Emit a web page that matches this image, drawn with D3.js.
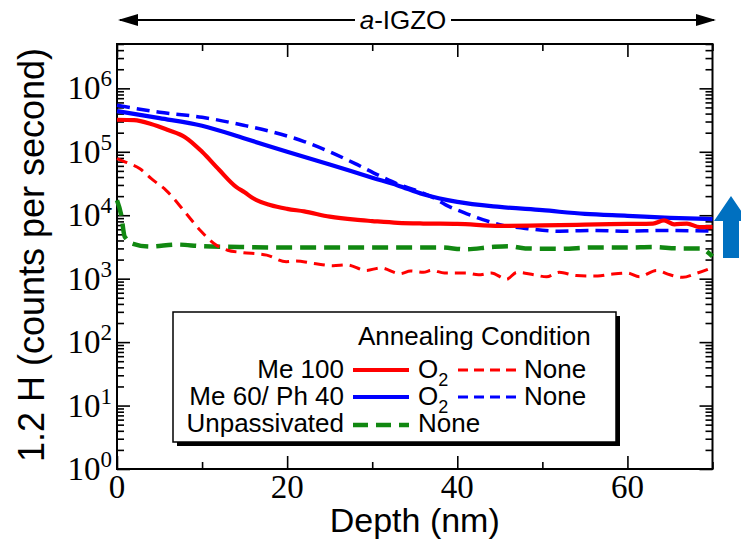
<!DOCTYPE html>
<html><head><meta charset="utf-8">
<script src="https://cdn.jsdelivr.net/npm/d3@7"></script>
<style>
html,body{margin:0;padding:0;background:#fff;}
svg{display:block;}
</style></head>
<body>
<svg id="chart" width="741" height="540"></svg>
<script>
// ---- data (depth in nm, counts per second) ----
const me100O2Depth  = [0, 2, 4, 6, 8, 10, 12, 14, 15, 16, 18, 20, 22, 25, 28, 30, 33, 36, 40, 45, 50, 55, 60, 63, 64.3, 65.5, 67, 68.5, 70];
const me100O2Counts = [3.2e5, 3.15e5, 2.75e5, 2.2e5, 1.7e5, 1.0e5, 5.2e4, 2.8e4, 2.3e4, 1.85e4, 1.45e4, 1.26e4, 1.15e4, 9.5e3, 8.5e3, 8.1e3, 7.6e3, 7.4e3, 7.3e3, 6.8e3, 6.9e3, 7.1e3, 7.3e3, 7.4e3, 8.3e3, 7.2e3, 7.4e3, 6.5e3, 6.5e3];

const me100NoneDepth  = [0, 1, 2.7, 4, 5.8, 8, 9.8, 11.7, 13, 14.5, 17.6, 19.9, 21, 23, 25.4, 27, 29.3, 31, 33.3, 34.5, 36, 37, 38.5, 41, 42.5, 44, 45.8, 47, 49, 50.5, 52, 54, 56.5, 58, 60, 61.4, 63.4, 65, 66.5, 68, 70];
const me100NoneCounts = [7.8e4, 6.9e4, 5.4e4, 3.8e4, 2.45e4, 1.12e4, 5.75e3, 3.35e3, 2.8e3, 2.6e3, 2.35e3, 1.85e3, 1.9e3, 1.75e3, 1.6e3, 1.65e3, 1.35e3, 1.48e3, 1.2e3, 1.32e3, 1.26e3, 1.35e3, 1.23e3, 1.23e3, 1.15e3, 1.23e3, 0.98e3, 1.26e3, 1.15e3, 1.07e3, 1.26e3, 1.12e3, 1.1e3, 1.17e3, 1.23e3, 1.07e3, 1.35e3, 1.15e3, 1.05e3, 1.2e3, 1.5e3];

const ph40O2Depth  = [0, 5, 10, 15, 20, 25, 30, 33, 36, 40, 45, 50, 55, 60, 65, 70];
const ph40O2Counts = [4.37e5, 3.39e5, 2.57e5, 1.62e5, 1.0e5, 6.3e4, 3.9e4, 2.95e4, 2.14e4, 1.62e4, 1.35e4, 1.2e4, 1.05e4, 9.8e3, 9.1e3, 8.7e3];

const ph40NoneDepth  = [0, 5, 10, 15, 18, 22, 25, 28, 31, 33, 35, 37, 39, 41, 43, 45, 48, 52, 56, 60, 64, 70];
const ph40NoneCounts = [5.4e5, 4.2e5, 3.5e5, 2.6e5, 2.1e5, 1.45e5, 1.0e5, 6.5e4, 4.1e4, 3.1e4, 2.5e4, 1.95e4, 1.38e4, 1.07e4, 8.5e3, 7.1e3, 6.2e3, 5.6e3, 5.75e3, 5.6e3, 5.75e3, 5.6e3];

const unpassDepth  = [0, 0.5, 0.9, 1.9, 3.9, 7, 10, 15, 20, 25, 30, 33, 38, 41, 44, 46, 48, 52, 56, 60, 63, 66, 68.5, 70];
const unpassCounts = [1.72e4, 1.0e4, 4.6e3, 3.55e3, 3.2e3, 3.45e3, 3.25e3, 3.15e3, 3.1e3, 3.1e3, 3.1e3, 3.1e3, 3.1e3, 2.9e3, 3.15e3, 3.25e3, 3.0e3, 2.95e3, 3.1e3, 3.1e3, 3.15e3, 3.0e3, 3.0e3, 2.25e3];

const xTicksMajor = [0, 20, 40, 60];
const xTicksMinor = [10, 30, 50, 70];
const yDecades = [1, 10, 100, 1000, 10000, 100000, 1000000];
const yExponents = ["0", "1", "2", "3", "4", "5", "6"];

const legendRows = ["Me 100", "Me 60/ Ph 40", "Unpassivated"];

// ---- layout ----
const svg = d3.select("#chart");
const L = 117, R = 712.5, T = 44, B = 469;
const x = d3.scaleLinear().domain([0, 70]).range([L, R]);
const y = d3.scaleLog().domain([1, 5e6]).range([B, T]);

const serif = "'Liberation Serif','Times New Roman',serif";
const sans = "'Liberation Sans',Arial,sans-serif";

// minor y ticks
const yMinor = [];
for (let k = 0; k <= 6; k++) for (let m = 2; m <= 9; m++) { const v = m * Math.pow(10, k); if (v <= 5e6) yMinor.push(v); }

function styleAxis(g) {
  g.select(".domain").remove();
  g.selectAll("line").attr("stroke", "#000").attr("stroke-width", 1.6);
  g.selectAll("text").remove();
}
// bottom
svg.append("g").attr("transform", `translate(0,${B})`).call(d3.axisBottom(x).tickValues(xTicksMajor).tickSize(-13)).call(styleAxis);
svg.append("g").attr("transform", `translate(0,${B})`).call(d3.axisBottom(x).tickValues(xTicksMinor).tickSize(-7)).call(styleAxis);
// top
svg.append("g").attr("transform", `translate(0,${T})`).call(d3.axisTop(x).tickValues(xTicksMajor).tickSize(-13)).call(styleAxis);
svg.append("g").attr("transform", `translate(0,${T})`).call(d3.axisTop(x).tickValues(xTicksMinor).tickSize(-7)).call(styleAxis);
// left
svg.append("g").attr("transform", `translate(${L},0)`).call(d3.axisLeft(y).tickValues(yDecades).tickSize(-13)).call(styleAxis);
svg.append("g").attr("transform", `translate(${L},0)`).call(d3.axisLeft(y).tickValues(yMinor).tickSize(-7)).call(styleAxis);
// right
svg.append("g").attr("transform", `translate(${R},0)`).call(d3.axisRight(y).tickValues(yDecades).tickSize(-13)).call(styleAxis);
svg.append("g").attr("transform", `translate(${R},0)`).call(d3.axisRight(y).tickValues(yMinor).tickSize(-7)).call(styleAxis);

// frame
svg.append("rect").attr("x", L).attr("y", T).attr("width", R - L).attr("height", B - T)
  .attr("fill", "none").attr("stroke", "#000").attr("stroke-width", 2);

// x tick labels
svg.append("g").selectAll("text").data(xTicksMajor).join("text")
  .attr("x", d => x(d)).attr("y", B + 29).attr("text-anchor", "middle")
  .attr("font-family", serif).attr("font-size", 33).text(d => d);

// y tick labels
const yl = svg.append("g").selectAll("text").data(yDecades).join("text")
  .attr("x", L - 5).attr("y", d => y(d) + 11).attr("text-anchor", "end")
  .attr("font-family", serif).attr("font-size", 33);
yl.append("tspan").text("10");
yl.append("tspan").attr("dy", -13).attr("font-size", 23).text((d, i) => yExponents[i]);

// axis titles
svg.append("text").attr("x", (L + R) / 2).attr("y", 532).attr("text-anchor", "middle")
  .attr("font-family", sans).attr("font-size", 34).text("Depth (nm)");
svg.append("text").attr("transform", `translate(44,255) rotate(-90)`).attr("text-anchor", "middle")
  .attr("font-family", sans).attr("font-size", 36).text("1.2 H (counts per second)");

// top arrow annotation
const ay = 20;
function head(tipX, dir) {
  svg.append("path").attr("d", `M${tipX},${ay} L${tipX - dir * 20},${ay - 6} L${tipX - dir * 20},${ay + 6} Z`).attr("fill", "#000");
}
svg.append("line").attr("x1", 120).attr("x2", 355).attr("y1", ay).attr("y2", ay).attr("stroke", "#000").attr("stroke-width", 2);
svg.append("line").attr("x1", 451).attr("x2", 714).attr("y1", ay).attr("y2", ay).attr("stroke", "#000").attr("stroke-width", 2);
head(118, -1);
head(716, 1);
const tl = svg.append("text").attr("x", 403).attr("y", ay + 9).attr("text-anchor", "middle")
  .attr("font-family", sans).attr("font-size", 26);
tl.append("tspan").attr("font-style", "italic").text("a");
tl.append("tspan").text("-IGZO");

// curves
const line = d3.line().x(d => x(d[0])).y(d => y(d[1])).curve(d3.curveMonotoneX);
function series(depths, counts, color, width, dash) {
  svg.append("path").datum(depths.map((d, i) => [d, counts[i]]))
    .attr("d", line).attr("fill", "none").attr("stroke", color).attr("stroke-width", width)
    .attr("stroke-dasharray", dash).attr("stroke-linejoin", "round");
}
const RED = "#ff0000", BLUE = "#0000ff", GREEN = "#118811";
series(unpassDepth, unpassCounts, GREEN, 4.5, "16,8");
series(me100NoneDepth, me100NoneCounts, RED, 3, "11,7");
series(ph40NoneDepth, ph40NoneCounts, BLUE, 3.5, "13,7");
series(ph40O2Depth, ph40O2Counts, BLUE, 4.2, null);
series(me100O2Depth, me100O2Counts, RED, 4.2, null);

// blue up arrow at right
svg.append("path").attr("d", "M731,196 L748,221 L739,221 L739,258 L723,258 L723,221 L714,221 Z").attr("fill", "#0070c0");

// legend
const lg = svg.append("g");
lg.append("rect").attr("x", 177).attr("y", 316).attr("width", 443).attr("height", 130).attr("fill", "#000");
lg.append("rect").attr("x", 173).attr("y", 312).attr("width", 443).attr("height", 130).attr("fill", "#fff").attr("stroke", "#000").attr("stroke-width", 1.5);
lg.append("text").attr("x", 358).attr("y", 345).attr("font-family", sans).attr("font-size", 26).text("Annealing Condition");
const rowY = [378, 405, 432];
lg.selectAll("text.lab").data(legendRows).join("text").attr("class", "lab")
  .attr("x", 344).attr("y", (d, i) => rowY[i]).attr("text-anchor", "end")
  .attr("font-family", sans).attr("font-size", 26).text(d => d);
const solidColors = [RED, BLUE];
const dashedColors = [RED, BLUE];
[0, 1].forEach(i => {
  lg.append("line").attr("x1", 353).attr("x2", 409).attr("y1", rowY[i] - 8).attr("y2", rowY[i] - 8).attr("stroke", solidColors[i]).attr("stroke-width", 4.2);
  const t = lg.append("text").attr("x", 418).attr("y", rowY[i]).attr("font-family", sans).attr("font-size", 26);
  t.append("tspan").text("O");
  t.append("tspan").attr("dy", 8).attr("font-size", 18).text("2");
  lg.append("line").attr("x1", 458).attr("x2", 516).attr("y1", rowY[i] - 8).attr("y2", rowY[i] - 8).attr("stroke", dashedColors[i]).attr("stroke-width", 3).attr("stroke-dasharray", "10,6");
  lg.append("text").attr("x", 524).attr("y", rowY[i]).attr("font-family", sans).attr("font-size", 26).text("None");
});
lg.append("line").attr("x1", 353).attr("x2", 409).attr("y1", rowY[2] - 7).attr("y2", rowY[2] - 7).attr("stroke", GREEN).attr("stroke-width", 4.5).attr("stroke-dasharray", "15,8");
lg.append("text").attr("x", 418).attr("y", rowY[2]).attr("font-family", sans).attr("font-size", 26).text("None");
</script>
</body></html>
